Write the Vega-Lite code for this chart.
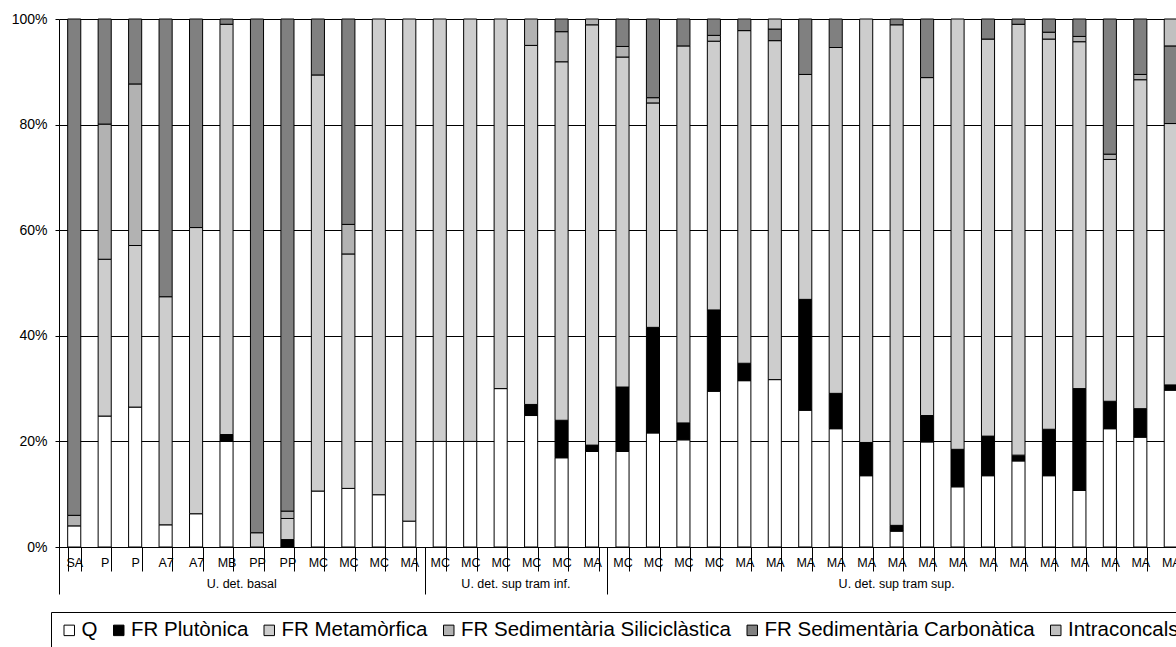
{
  "$schema": "https://vega.github.io/schema/vega-lite/v6.json",
  "width": 1117,
  "height": 528,
  "autosize": {"type": "none"},
  "padding": {"left": 59, "top": 19, "right": 0, "bottom": 100},
  "background": "white",
  "config": {
    "font": "Liberation Sans",
    "view": {"stroke": null},
    "axis": {"labelFont": "Liberation Sans", "labelColor": "black", "domainColor": "black", "tickColor": "black", "domainWidth": 1, "tickWidth": 1}
  },
  "datasets": {
    "bars": [
      {"id": 0, "label": "SA", "group": "U. det. basal", "Q": 4.0, "FR Plutònica": 0, "FR Metamòrfica": 0, "FR Sedimentària Siliciclàstica": 2.0, "FR Sedimentària Carbonàtica": 94.0, "Intraconcals": 0},
      {"id": 1, "label": "P", "group": "U. det. basal", "Q": 24.8, "FR Plutònica": 0, "FR Metamòrfica": 29.7, "FR Sedimentària Siliciclàstica": 25.6, "FR Sedimentària Carbonàtica": 19.9, "Intraconcals": 0},
      {"id": 2, "label": "P", "group": "U. det. basal", "Q": 26.5, "FR Plutònica": 0, "FR Metamòrfica": 30.6, "FR Sedimentària Siliciclàstica": 30.6, "FR Sedimentària Carbonàtica": 12.3, "Intraconcals": 0},
      {"id": 3, "label": "A7", "group": "U. det. basal", "Q": 4.2, "FR Plutònica": 0, "FR Metamòrfica": 43.2, "FR Sedimentària Siliciclàstica": 0, "FR Sedimentària Carbonàtica": 52.6, "Intraconcals": 0},
      {"id": 4, "label": "A7", "group": "U. det. basal", "Q": 6.3, "FR Plutònica": 0, "FR Metamòrfica": 54.2, "FR Sedimentària Siliciclàstica": 0, "FR Sedimentària Carbonàtica": 39.5, "Intraconcals": 0},
      {"id": 5, "label": "MB", "group": "U. det. basal", "Q": 20.0, "FR Plutònica": 1.3, "FR Metamòrfica": 77.7, "FR Sedimentària Siliciclàstica": 0, "FR Sedimentària Carbonàtica": 1.0, "Intraconcals": 0},
      {"id": 6, "label": "PP", "group": "U. det. basal", "Q": 0, "FR Plutònica": 0, "FR Metamòrfica": 2.7, "FR Sedimentària Siliciclàstica": 0, "FR Sedimentària Carbonàtica": 97.3, "Intraconcals": 0},
      {"id": 7, "label": "PP", "group": "U. det. basal", "Q": 0, "FR Plutònica": 1.4, "FR Metamòrfica": 4.0, "FR Sedimentària Siliciclàstica": 1.4, "FR Sedimentària Carbonàtica": 93.2, "Intraconcals": 0},
      {"id": 8, "label": "MC", "group": "U. det. basal", "Q": 10.6, "FR Plutònica": 0, "FR Metamòrfica": 78.8, "FR Sedimentària Siliciclàstica": 0, "FR Sedimentària Carbonàtica": 10.6, "Intraconcals": 0},
      {"id": 9, "label": "MC", "group": "U. det. basal", "Q": 11.1, "FR Plutònica": 0, "FR Metamòrfica": 44.4, "FR Sedimentària Siliciclàstica": 5.6, "FR Sedimentària Carbonàtica": 38.9, "Intraconcals": 0},
      {"id": 10, "label": "MC", "group": "U. det. basal", "Q": 9.9, "FR Plutònica": 0, "FR Metamòrfica": 90.1, "FR Sedimentària Siliciclàstica": 0, "FR Sedimentària Carbonàtica": 0, "Intraconcals": 0},
      {"id": 11, "label": "MA", "group": "U. det. basal", "Q": 4.9, "FR Plutònica": 0, "FR Metamòrfica": 95.1, "FR Sedimentària Siliciclàstica": 0, "FR Sedimentària Carbonàtica": 0, "Intraconcals": 0},
      {"id": 12, "label": "MC", "group": "U. det. sup tram inf.", "Q": 20.0, "FR Plutònica": 0, "FR Metamòrfica": 80.0, "FR Sedimentària Siliciclàstica": 0, "FR Sedimentària Carbonàtica": 0, "Intraconcals": 0},
      {"id": 13, "label": "MC", "group": "U. det. sup tram inf.", "Q": 20.0, "FR Plutònica": 0, "FR Metamòrfica": 80.0, "FR Sedimentària Siliciclàstica": 0, "FR Sedimentària Carbonàtica": 0, "Intraconcals": 0},
      {"id": 14, "label": "MC", "group": "U. det. sup tram inf.", "Q": 30.0, "FR Plutònica": 0, "FR Metamòrfica": 70.0, "FR Sedimentària Siliciclàstica": 0, "FR Sedimentària Carbonàtica": 0, "Intraconcals": 0},
      {"id": 15, "label": "MC", "group": "U. det. sup tram inf.", "Q": 24.9, "FR Plutònica": 2.1, "FR Metamòrfica": 68.0, "FR Sedimentària Siliciclàstica": 5.0, "FR Sedimentària Carbonàtica": 0, "Intraconcals": 0},
      {"id": 16, "label": "MC", "group": "U. det. sup tram inf.", "Q": 16.9, "FR Plutònica": 7.1, "FR Metamòrfica": 67.9, "FR Sedimentària Siliciclàstica": 5.7, "FR Sedimentària Carbonàtica": 2.4, "Intraconcals": 0},
      {"id": 17, "label": "MA", "group": "U. det. sup tram inf.", "Q": 18.1, "FR Plutònica": 1.2, "FR Metamòrfica": 79.6, "FR Sedimentària Siliciclàstica": 1.1, "FR Sedimentària Carbonàtica": 0, "Intraconcals": 0},
      {"id": 18, "label": "MC", "group": "U. det. sup tram sup.", "Q": 18.1, "FR Plutònica": 12.2, "FR Metamòrfica": 62.5, "FR Sedimentària Siliciclàstica": 2.0, "FR Sedimentària Carbonàtica": 5.2, "Intraconcals": 0},
      {"id": 19, "label": "MC", "group": "U. det. sup tram sup.", "Q": 21.6, "FR Plutònica": 20.0, "FR Metamòrfica": 42.5, "FR Sedimentària Siliciclàstica": 1.0, "FR Sedimentària Carbonàtica": 14.9, "Intraconcals": 0},
      {"id": 20, "label": "MC", "group": "U. det. sup tram sup.", "Q": 20.3, "FR Plutònica": 3.2, "FR Metamòrfica": 71.4, "FR Sedimentària Siliciclàstica": 0, "FR Sedimentària Carbonàtica": 5.1, "Intraconcals": 0},
      {"id": 21, "label": "MC", "group": "U. det. sup tram sup.", "Q": 29.5, "FR Plutònica": 15.4, "FR Metamòrfica": 50.9, "FR Sedimentària Siliciclàstica": 1.1, "FR Sedimentària Carbonàtica": 3.1, "Intraconcals": 0},
      {"id": 22, "label": "MA", "group": "U. det. sup tram sup.", "Q": 31.5, "FR Plutònica": 3.3, "FR Metamòrfica": 63.0, "FR Sedimentària Siliciclàstica": 0, "FR Sedimentària Carbonàtica": 2.2, "Intraconcals": 0},
      {"id": 23, "label": "MA", "group": "U. det. sup tram sup.", "Q": 31.7, "FR Plutònica": 0, "FR Metamòrfica": 64.2, "FR Sedimentària Siliciclàstica": 0, "FR Sedimentària Carbonàtica": 2.2, "Intraconcals": 1.9},
      {"id": 24, "label": "MA", "group": "U. det. sup tram sup.", "Q": 25.9, "FR Plutònica": 21.0, "FR Metamòrfica": 42.6, "FR Sedimentària Siliciclàstica": 0, "FR Sedimentària Carbonàtica": 10.5, "Intraconcals": 0},
      {"id": 25, "label": "MA", "group": "U. det. sup tram sup.", "Q": 22.4, "FR Plutònica": 6.7, "FR Metamòrfica": 65.5, "FR Sedimentària Siliciclàstica": 0, "FR Sedimentària Carbonàtica": 5.4, "Intraconcals": 0},
      {"id": 26, "label": "MA", "group": "U. det. sup tram sup.", "Q": 13.5, "FR Plutònica": 6.3, "FR Metamòrfica": 80.2, "FR Sedimentària Siliciclàstica": 0, "FR Sedimentària Carbonàtica": 0, "Intraconcals": 0},
      {"id": 27, "label": "MA", "group": "U. det. sup tram sup.", "Q": 3.0, "FR Plutònica": 1.1, "FR Metamòrfica": 94.8, "FR Sedimentària Siliciclàstica": 0, "FR Sedimentària Carbonàtica": 1.1, "Intraconcals": 0},
      {"id": 28, "label": "MA", "group": "U. det. sup tram sup.", "Q": 19.9, "FR Plutònica": 5.0, "FR Metamòrfica": 64.0, "FR Sedimentària Siliciclàstica": 0, "FR Sedimentària Carbonàtica": 11.1, "Intraconcals": 0},
      {"id": 29, "label": "MA", "group": "U. det. sup tram sup.", "Q": 11.4, "FR Plutònica": 7.1, "FR Metamòrfica": 81.5, "FR Sedimentària Siliciclàstica": 0, "FR Sedimentària Carbonàtica": 0, "Intraconcals": 0},
      {"id": 30, "label": "MA", "group": "U. det. sup tram sup.", "Q": 13.5, "FR Plutònica": 7.5, "FR Metamòrfica": 75.2, "FR Sedimentària Siliciclàstica": 0, "FR Sedimentària Carbonàtica": 3.8, "Intraconcals": 0},
      {"id": 31, "label": "MA", "group": "U. det. sup tram sup.", "Q": 16.3, "FR Plutònica": 1.1, "FR Metamòrfica": 81.6, "FR Sedimentària Siliciclàstica": 0, "FR Sedimentària Carbonàtica": 1.0, "Intraconcals": 0},
      {"id": 32, "label": "MA", "group": "U. det. sup tram sup.", "Q": 13.5, "FR Plutònica": 8.8, "FR Metamòrfica": 73.9, "FR Sedimentària Siliciclàstica": 1.3, "FR Sedimentària Carbonàtica": 2.5, "Intraconcals": 0},
      {"id": 33, "label": "MA", "group": "U. det. sup tram sup.", "Q": 10.7, "FR Plutònica": 19.3, "FR Metamòrfica": 65.7, "FR Sedimentària Siliciclàstica": 1.0, "FR Sedimentària Carbonàtica": 3.3, "Intraconcals": 0},
      {"id": 34, "label": "MA", "group": "U. det. sup tram sup.", "Q": 22.4, "FR Plutònica": 5.2, "FR Metamòrfica": 45.8, "FR Sedimentària Siliciclàstica": 1.0, "FR Sedimentària Carbonàtica": 25.6, "Intraconcals": 0},
      {"id": 35, "label": "MA", "group": "U. det. sup tram sup.", "Q": 20.8, "FR Plutònica": 5.4, "FR Metamòrfica": 62.3, "FR Sedimentària Siliciclàstica": 1.0, "FR Sedimentària Carbonàtica": 10.5, "Intraconcals": 0},
      {"id": 36, "label": "MA", "group": "U. det. sup tram sup.", "Q": 29.7, "FR Plutònica": 1.0, "FR Metamòrfica": 49.5, "FR Sedimentària Siliciclàstica": 0, "FR Sedimentària Carbonàtica": 14.7, "Intraconcals": 5.1}
    ],
    "groups": [
      {"group": "U. det. basal", "mid": 6},
      {"group": "U. det. sup tram inf.", "mid": 15},
      {"group": "U. det. sup tram sup.", "mid": 27.5}
    ]
  },
  "layer": [
    {
      "data": {"name": "bars"},
      "transform": [
        {"fold": ["Q", "FR Plutònica", "FR Metamòrfica", "FR Sedimentària Siliciclàstica", "FR Sedimentària Carbonàtica", "Intraconcals"], "as": ["comp", "pct"]},
        {"filter": "datum.pct > 0"},
        {"calculate": "indexof(['Q','FR Plutònica','FR Metamòrfica','FR Sedimentària Siliciclàstica','FR Sedimentària Carbonàtica','Intraconcals'], datum.comp)", "as": "stackOrder"}
      ],
      "mark": {"type": "bar", "stroke": "black", "strokeWidth": 1},
      "encoding": {
        "x": {
          "field": "id", "type": "ordinal",
          "scale": {"range": [0, 1127], "paddingInner": 0.57, "paddingOuter": 0.285},
          "axis": {
            "title": null, "tickBand": "extent", "tickSize": 24, "labelAngle": 0,
            "labelFontSize": 12.5, "labelBaseline": "alphabetic", "labelPadding": -4.5,
            "grid": false,
            "labelExpr": "['SA','P','P','A7','A7','MB','PP','PP','MC','MC','MC','MA','MC','MC','MC','MC','MC','MA','MC','MC','MC','MC','MA','MA','MA','MA','MA','MA','MA','MA','MA','MA','MA','MA','MA','MA','MA'][datum.value]"
          }
        },
        "y": {
          "field": "pct", "type": "quantitative", "stack": "normalize",
          "scale": {"domain": [0, 1]},
          "axis": {
            "title": null, "values": [0, 0.2, 0.4, 0.6, 0.8, 1], "format": ".0%",
            "grid": true, "gridColor": "black", "gridWidth": 1, "gridOpacity": 1,
            "tickSize": 4, "labelFontSize": 14, "labelPadding": 8
          }
        },
        "order": {"field": "stackOrder", "type": "quantitative", "sort": "ascending"},
        "color": {
          "field": "comp", "type": "nominal",
          "scale": {
            "domain": ["Q", "FR Plutònica", "FR Metamòrfica", "FR Sedimentària Siliciclàstica", "FR Sedimentària Carbonàtica", "Intraconcals"],
            "range": ["#ffffff", "#000000", "#cdcdcd", "#b2b2b2", "#808080", "#c0c0c0"]
          },
          "legend": {
            "orient": "none", "legendX": -8, "legendY": 593,
            "direction": "horizontal", "columns": 6, "title": null,
            "strokeColor": "black", "fillColor": "white", "padding": 8,
            "symbolType": "square", "symbolSize": 110, "symbolStrokeColor": "black", "symbolStrokeWidth": 1, "symbolOpacity": 1,
            "labelFont": "Liberation Sans", "labelFontSize": 20.5, "labelLimit": 0, "labelOffset": 2,
            "columnPadding": 10.5, "labelColor": "black"
          }
        }
      }
    },
    {
      "data": {"name": "groups"},
      "mark": {"type": "text", "fontSize": 12.5, "baseline": "alphabetic", "align": "center", "color": "black", "font": "Liberation Sans"},
      "encoding": {
        "x": {
          "field": "mid", "type": "quantitative",
          "scale": {"domain": [0, 37], "range": [0, 1127], "nice": false, "zero": false},
          "axis": {"orient": "bottom", "values": [0, 12, 18, 37], "tickSize": 47, "labels": false, "domain": false, "grid": false, "title": null}
        },
        "y": {"datum": -0.0777},
        "text": {"field": "group"}
      }
    }
  ],
  "resolve": {"scale": {"x": "independent"}}
}
